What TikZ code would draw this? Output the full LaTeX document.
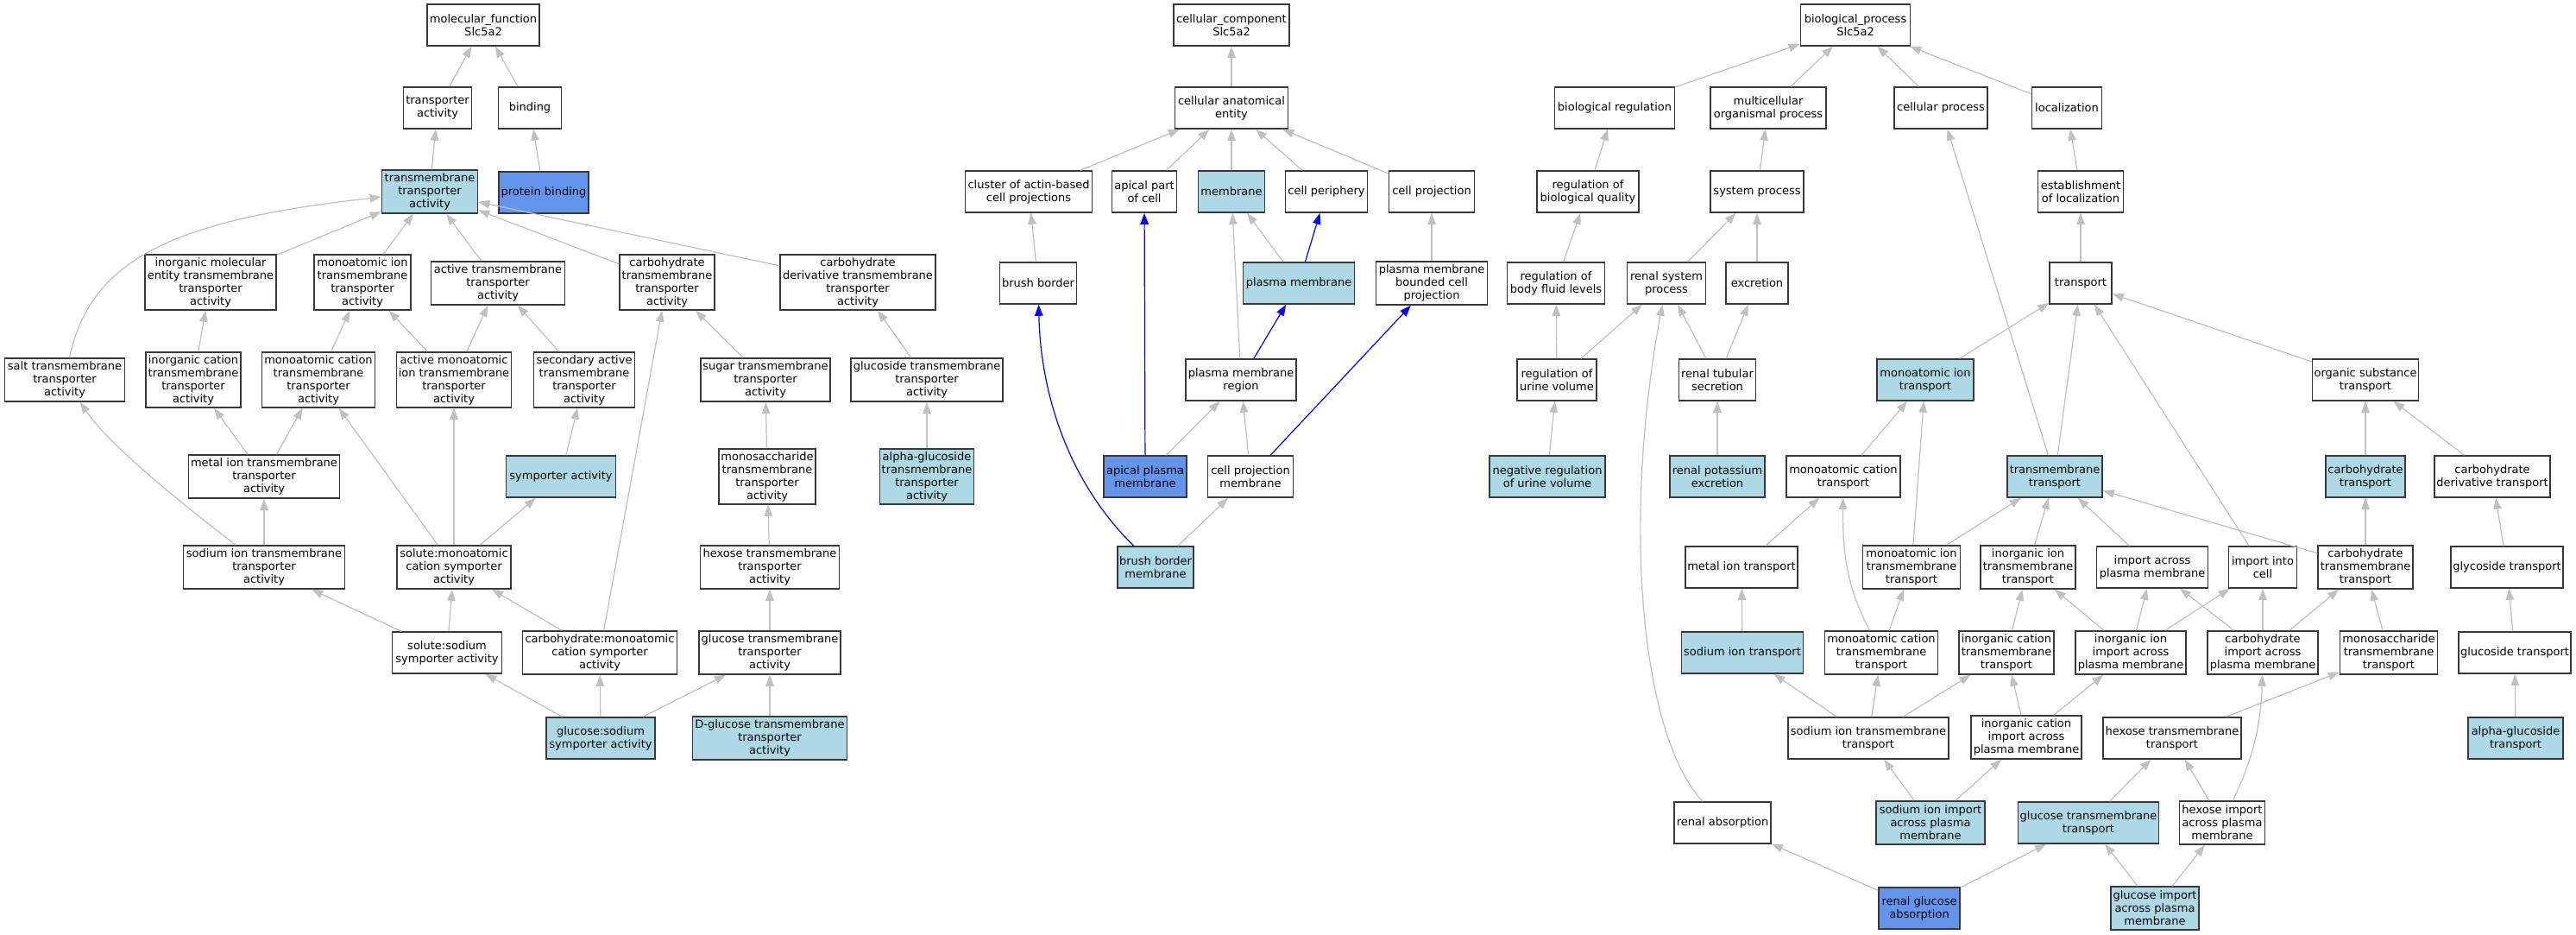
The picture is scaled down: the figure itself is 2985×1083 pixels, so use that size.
\documentclass[tikz,border=0pt]{standalone}
\usepackage{fontspec}
\setmainfont{DejaVu Sans}
\usetikzlibrary{arrows.meta}
\definecolor{lightblue}{HTML}{ADD8E6}
\definecolor{cornflower}{HTML}{6495ED}
\definecolor{edgegray}{HTML}{C0C0C0}
\definecolor{boxline}{HTML}{383838}
\begin{document}
\begin{tikzpicture}[x=1pt,y=-1pt,
  box/.style={draw=boxline, line width=1.6pt, fill=white, rectangle, align=center,
    minimum height=48pt, inner xsep=2pt, inner ysep=2pt, font=\fontsize{13}{15}\selectfont},
  lb/.style={box, fill=lightblue},
  cb/.style={box, fill=cornflower},
  w/.style={minimum width=#1pt},
  h3/.style={minimum height=50pt},
  h4/.style={minimum height=64pt},
  e/.style={draw=edgegray, line width=1.2pt, -{Triangle[length=13pt,width=9.5pt]}},
  be/.style={draw=blue, line width=1.2pt, -{Triangle[length=13pt,width=9.5pt]}}]
\useasboundingbox (0,0) rectangle (2985,1083);
\fill[white] (0,0) rectangle (2985,1083);
% ---------------- molecular function ----------------
\node[box,w=130] (mf) at (560,29) {molecular\_function\\Slc5a2};
\node[box,w=79] (ta) at (507,125) {transporter\\activity};
\node[box,w=73] (bind) at (614,125) {binding};
\node[lb,w=111,h3] (tmta) at (498,222) {transmembrane\\transporter\\activity};
\node[cb,w=104] (pb) at (630,223) {protein binding};
\node[box,w=152,h4] (imeta) at (244,327) {inorganic molecular\\entity transmembrane\\transporter\\activity};
\node[box,w=112,h4] (mita) at (420,327) {monoatomic ion\\transmembrane\\transporter\\activity};
\node[box,w=155,h3] (acta) at (577,328) {active transmembrane\\transporter\\activity};
\node[box,w=110,h4] (chta) at (773,327) {carbohydrate\\transmembrane\\transporter\\activity};
\node[box,w=180,h4] (cdta) at (994,327) {carbohydrate\\derivative transmembrane\\transporter\\activity};
\node[box,w=139,h3] (salt) at (75,440) {salt transmembrane\\transporter\\activity};
\node[box,w=110,h4] (icta) at (224,440) {inorganic cation\\transmembrane\\transporter\\activity};
\node[box,w=131,h4] (mcta) at (369,440) {monoatomic cation\\transmembrane\\transporter\\activity};
\node[box,w=133,h4] (amita) at (526,440) {active monoatomic\\ion transmembrane\\transporter\\activity};
\node[box,w=117,h4] (sata) at (677,440) {secondary active\\transmembrane\\transporter\\activity};
\node[box,w=150,h3] (suta) at (887,440) {sugar transmembrane\\transporter\\activity};
\node[box,w=176,h3] (glta) at (1074,440) {glucoside transmembrane\\transporter\\activity};
\node[box,w=175,h3] (mtta) at (306,552) {metal ion transmembrane\\transporter\\activity};
\node[lb,w=127] (sym) at (650,552) {symporter activity};
\node[box,w=112,h4] (msta) at (889,552) {monosaccharide\\transmembrane\\transporter\\activity};
\node[lb,w=109,h4] (agta) at (1074,552) {alpha-glucoside\\transmembrane\\transporter\\activity};
\node[box,w=187,h3] (sita) at (306,657) {sodium ion transmembrane\\transporter\\activity};
\node[box,w=132,h3] (smcs) at (526,657) {solute:monoatomic\\cation symporter\\activity};
\node[box,w=161,h3] (hxta) at (892,657) {hexose transmembrane\\transporter\\activity};
\node[box,w=127] (sss) at (518,756) {solute:sodium\\symporter activity};
\node[box,w=179,h3] (cmcs) at (695,756) {carbohydrate:monoatomic\\cation symporter\\activity};
\node[box,w=164,h3] (gcta) at (892,756) {glucose transmembrane\\transporter\\activity};
\node[lb,w=126] (gss) at (696,855) {glucose:sodium\\symporter activity};
\node[lb,w=179,h3] (dgta) at (892,855) {D-glucose transmembrane\\transporter\\activity};
% ---------------- cellular component ----------------
\node[box,w=134] (cc) at (1427,29) {cellular\_component\\Slc5a2};
\node[box,w=131] (cae) at (1427,125) {cellular anatomical\\entity};
\node[box,w=147] (cab) at (1192,222) {cluster of actin-based\\cell projections};
\node[box,w=75] (apc) at (1326,222) {apical part\\of cell};
\node[lb,w=77] (mem) at (1427,222) {membrane};
\node[box,w=95] (cp) at (1537,222) {cell periphery};
\node[box,w=99] (cpr) at (1659,222) {cell projection};
\node[box,w=89] (bb) at (1203,328) {brush border};
\node[lb,w=129] (pm) at (1505,328) {plasma membrane};
\node[box,w=129,h3] (pmbcp) at (1659,328) {plasma membrane\\bounded cell\\projection};
\node[box,w=128] (pmr) at (1438,440) {plasma membrane\\region};
\node[cb,w=96] (apm) at (1327,552) {apical plasma\\membrane};
\node[box,w=99] (cpm) at (1449,552) {cell projection\\membrane};
\node[lb,w=88] (bbm) at (1339,657) {brush border\\membrane};
% ---------------- biological process ----------------
\node[box,w=127] (bp) at (2150,29) {biological\_process\\Slc5a2};
\node[box,w=139] (breg) at (1871,125) {biological regulation};
\node[box,w=134] (mop) at (2049,125) {multicellular\\organismal process};
\node[box,w=108] (cproc) at (2249,125) {cellular process};
\node[box,w=81] (loc) at (2395,125) {localization};
\node[box,w=118] (rbq) at (1840,222) {regulation of\\biological quality};
\node[box,w=108] (sp) at (2036,222) {system process};
\node[box,w=99] (eol) at (2411,222) {establishment\\of localization};
\node[box,w=113] (rbfl) at (1803,328) {regulation of\\body fluid levels};
\node[box,w=91] (rsp) at (1931,328) {renal system\\process};
\node[box,w=72] (exc) at (2036,328) {excretion};
\node[box,w=72] (tr) at (2411,328) {transport};
\node[box,w=92] (ruv) at (1804,440) {regulation of\\urine volume};
\node[box,w=89] (rts) at (1990,440) {renal tubular\\secretion};
\node[lb,w=112] (mit) at (2231,440) {monoatomic ion\\transport};
\node[box,w=123] (ost) at (2741,440) {organic substance\\transport};
\node[lb,w=134] (nruv) at (1793,552) {negative regulation\\of urine volume};
\node[lb,w=110] (rpe) at (1990,552) {renal potassium\\excretion};
\node[box,w=132] (mct) at (2136,552) {monoatomic cation\\transport};
\node[lb,w=110] (tmt) at (2381,552) {transmembrane\\transport};
\node[lb,w=92] (cht) at (2741,552) {carbohydrate\\transport};
\node[box,w=134] (cdt) at (2888,552) {carbohydrate\\derivative transport};
\node[box,w=130] (mtt) at (2018,657) {metal ion transport};
\node[box,w=113,h3] (mitt) at (2215,657) {monoatomic ion\\transmembrane\\transport};
\node[box,w=110,h3] (iitt) at (2350,657) {inorganic ion\\transmembrane\\transport};
\node[box,w=129] (iapm) at (2494,657) {import across\\plasma membrane};
\node[box,w=79] (iic) at (2622,657) {import into\\cell};
\node[box,w=110,h3] (chtt) at (2741,657) {carbohydrate\\transmembrane\\transport};
\node[box,w=130] (gyt) at (2905,657) {glycoside transport};
\node[lb,w=141] (sit) at (2019,756) {sodium ion transport};
\node[box,w=131,h3] (mctt) at (2180,756) {monoatomic cation\\transmembrane\\transport};
\node[box,w=110,h3] (ictt) at (2325,756) {inorganic cation\\transmembrane\\transport};
\node[box,w=128,h3] (iiia) at (2469,756) {inorganic ion\\import across\\plasma membrane};
\node[box,w=128,h3] (chia) at (2622,756) {carbohydrate\\import across\\plasma membrane};
\node[box,w=113,h3] (mstt) at (2768,756) {monosaccharide\\transmembrane\\transport};
\node[box,w=130] (gdt) at (2914,756) {glucoside transport};
\node[box,w=186] (sitt) at (2165,855) {sodium ion transmembrane\\transport};
\node[box,w=128,h3] (icia) at (2348,854) {inorganic cation\\import across\\plasma membrane};
\node[box,w=160] (hxtt) at (2517,855) {hexose transmembrane\\transport};
\node[lb,w=110] (agt) at (2915,855) {alpha-glucoside\\transport};
\node[box,w=112] (ra) at (1996,953) {renal absorption};
\node[lb,w=126,h3] (siia) at (2237,953) {sodium ion import\\across plasma\\membrane};
\node[lb,w=163] (gctt) at (2420,953) {glucose transmembrane\\transport};
\node[box,w=99,h3] (hxia) at (2575,953) {hexose import\\across plasma\\membrane};
\node[cb,w=94] (rga) at (2224,1052) {renal glucose\\absorption};
\node[lb,w=102,h3] (gcia) at (2497,1052) {glucose import\\across plasma\\membrane};
% ---------------- edges: molecular function ----------------
\draw[e] (ta) -- (mf);
\draw[e] (bind) -- (mf);
\draw[e] (tmta) -- (ta);
\draw[e] (pb) -- (bind);
\draw[e] (imeta) -- (tmta);
\draw[e] (mita) -- (tmta);
\draw[e] (acta) -- (tmta);
\draw[e] (chta) -- (tmta);
\draw[e] (cdta) -- (tmta);
\draw[e] (salt) .. controls (105,300) and (200,255) .. (tmta);
\draw[e] (icta) -- (imeta);
\draw[e] (mcta) -- (mita);
\draw[e] (amita) -- (mita);
\draw[e] (amita) -- (acta);
\draw[e] (sata) -- (acta);
\draw[e] (suta) -- (chta);
\draw[e] (glta) -- (cdta);
\draw[e] (mtta) -- (icta);
\draw[e] (mtta) -- (mcta);
\draw[e] (sym) -- (sata);
\draw[e] (msta) -- (suta);
\draw[e] (agta) -- (glta);
\draw[e] (sita) .. controls (220,590) and (130,520) .. (salt);
\draw[e] (sita) -- (mtta);
\draw[e] (smcs) -- (mcta);
\draw[e] (smcs) -- (amita);
\draw[e] (smcs) -- (sym);
\draw[e] (hxta) -- (msta);
\draw[e] (sss) -- (sita);
\draw[e] (sss) -- (smcs);
\draw[e] (cmcs) -- (smcs);
\draw[e] (cmcs) -- (chta);
\draw[e] (gcta) -- (hxta);
\draw[e] (gss) -- (sss);
\draw[e] (gss) -- (cmcs);
\draw[e] (gss) -- (gcta);
\draw[e] (dgta) -- (gcta);
% ---------------- edges: cellular component ----------------
\draw[e] (cae) -- (cc);
\draw[e] (cab) -- (cae);
\draw[e] (apc) -- (cae);
\draw[e] (mem) -- (cae);
\draw[e] (cp) -- (cae);
\draw[e] (cpr) -- (cae);
\draw[e] (bb) -- (cab);
\draw[e] (pm) -- (mem);
\draw[be] (pm) -- (cp);
\draw[e] (pmbcp) -- (cpr);
\draw[e] (pmr) -- (mem);
\draw[be] (pmr) -- (pm);
\draw[be] (apm) -- (apc);
\draw[e] (apm) -- (pmr);
\draw[e] (cpm) -- (pmr);
\draw[be] (cpm) -- (pmbcp);
\draw[be] (bbm) .. controls (1240,560) and (1206,460) .. (bb);
\draw[e] (bbm) -- (cpm);
% ---------------- edges: biological process ----------------
\draw[e] (breg) -- (bp);
\draw[e] (mop) -- (bp);
\draw[e] (cproc) -- (bp);
\draw[e] (loc) -- (bp);
\draw[e] (rbq) -- (breg);
\draw[e] (sp) -- (mop);
\draw[e] (eol) -- (loc);
\draw[e] (rbfl) -- (rbq);
\draw[e] (rsp) -- (sp);
\draw[e] (exc) -- (sp);
\draw[e] (tr) -- (eol);
\draw[e] (ruv) -- (rbfl);
\draw[e] (ruv) -- (rsp);
\draw[e] (rts) -- (rsp);
\draw[e] (rts) -- (exc);
\draw[e] (ra) .. controls (1900,850) and (1880,600) .. (rsp);
\draw[e] (mit) -- (tr);
\draw[e] (tmt) -- (tr);
\draw[e] (tmt) -- (cproc);
\draw[e] (iic) -- (tr);
\draw[e] (ost) -- (tr);
\draw[e] (nruv) -- (ruv);
\draw[e] (rpe) -- (rts);
\draw[e] (mct) -- (mit);
\draw[e] (cht) -- (ost);
\draw[e] (cdt) -- (ost);
\draw[e] (mtt) -- (mct);
\draw[e] (mitt) -- (mit);
\draw[e] (mitt) -- (tmt);
\draw[e] (iitt) -- (tmt);
\draw[e] (iapm) -- (tmt);
\draw[e] (chtt) -- (tmt);
\draw[e] (chtt) -- (cht);
\draw[e] (gyt) -- (cdt);
\draw[e] (sit) -- (mtt);
\draw[e] (mctt) .. controls (2140,680) and (2135,640) .. (mct);
\draw[e] (mctt) -- (mitt);
\draw[e] (ictt) -- (iitt);
\draw[e] (iiia) -- (iitt);
\draw[e] (iiia) -- (iapm);
\draw[e] (iiia) -- (iic);
\draw[e] (chia) -- (iapm);
\draw[e] (chia) -- (iic);
\draw[e] (chia) -- (chtt);
\draw[e] (mstt) -- (chtt);
\draw[e] (gdt) -- (gyt);
\draw[e] (sitt) -- (sit);
\draw[e] (sitt) -- (mctt);
\draw[e] (sitt) -- (ictt);
\draw[e] (icia) -- (ictt);
\draw[e] (icia) -- (iiia);
\draw[e] (hxtt) -- (mstt);
\draw[e] (agt) -- (gdt);
\draw[e] (siia) -- (sitt);
\draw[e] (siia) -- (icia);
\draw[e] (gctt) -- (hxtt);
\draw[e] (hxia) -- (hxtt);
\draw[e] (hxia) .. controls (2610,880) and (2620,840) .. (chia);
\draw[e] (rga) -- (ra);
\draw[e] (rga) -- (gctt);
\draw[e] (gcia) -- (gctt);
\draw[e] (gcia) -- (hxia);
\end{tikzpicture}
\end{document}
